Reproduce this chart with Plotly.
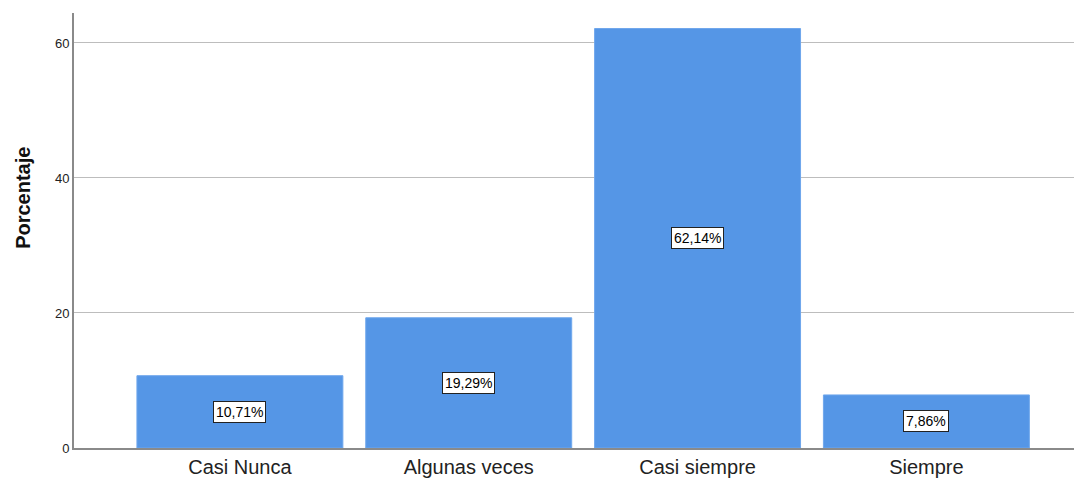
import plotly.graph_objects as go

categorias = ["Casi Nunca", "Algunas veces", "Casi siempre", "Siempre"]
porcentajes = [10.71, 19.29, 62.14, 7.86]
y_ticks = [0, 20, 40, 60]

etiquetas = [f"{v:.2f}".replace(".", ",") + "%" for v in porcentajes]

fig = go.Figure()
fig.add_trace(go.Bar(
    x=list(range(len(categorias))),
    y=porcentajes,
    marker=dict(color="#5596e6", line=dict(color="#6fa7ec", width=1)),
    width=0.9,
    hoverinfo="skip",
))

# boxed value labels in the middle of each bar
for i, (v, t) in enumerate(zip(porcentajes, etiquetas)):
    fig.add_annotation(
        x=i, y=v / 2, text=t, showarrow=False,
        font=dict(family="Liberation Sans, Arial", size=14, color="black"),
        bgcolor="white", bordercolor="#222222", borderwidth=1, borderpad=2,
    )

# y title sits above the plot's middle, like SPSS does it
fig.add_annotation(
    text="<b>Porcentaje</b>", textangle=-90, showarrow=False,
    xref="paper", yref="paper", x=-0.0506, y=0.575,
    xanchor="center", yanchor="middle",
    font=dict(family="Liberation Sans, Arial", size=20, color="#111111"),
)

# the page body adds an 8px offset, margins below compensate for it
fig.update_layout(
    width=1082, height=478,
    margin=dict(l=66, r=8, t=5, b=38),
    plot_bgcolor="white", paper_bgcolor="white",
    showlegend=False,
    font=dict(family="Liberation Sans, Arial", color="#222222"),
    xaxis=dict(
        tickmode="array",
        tickvals=list(range(len(categorias))),
        ticktext=categorias,
        range=[-0.725, 3.68],
        showgrid=False,
        showline=True, linecolor="#8a8a8a", linewidth=1.5,
        ticks="", tickfont=dict(size=20, color="#222222"),
        zeroline=False,
    ),
    yaxis=dict(
        range=[0, 64.44],
        tickvals=y_ticks,
        showgrid=True, gridcolor="#bdbdbd", gridwidth=1,
        showline=True, linecolor="#8a8a8a", linewidth=2,
        ticks="", tickfont=dict(size=13, color="#222222"),
        zeroline=False,
    ),
)

fig.write_html("out.html")
